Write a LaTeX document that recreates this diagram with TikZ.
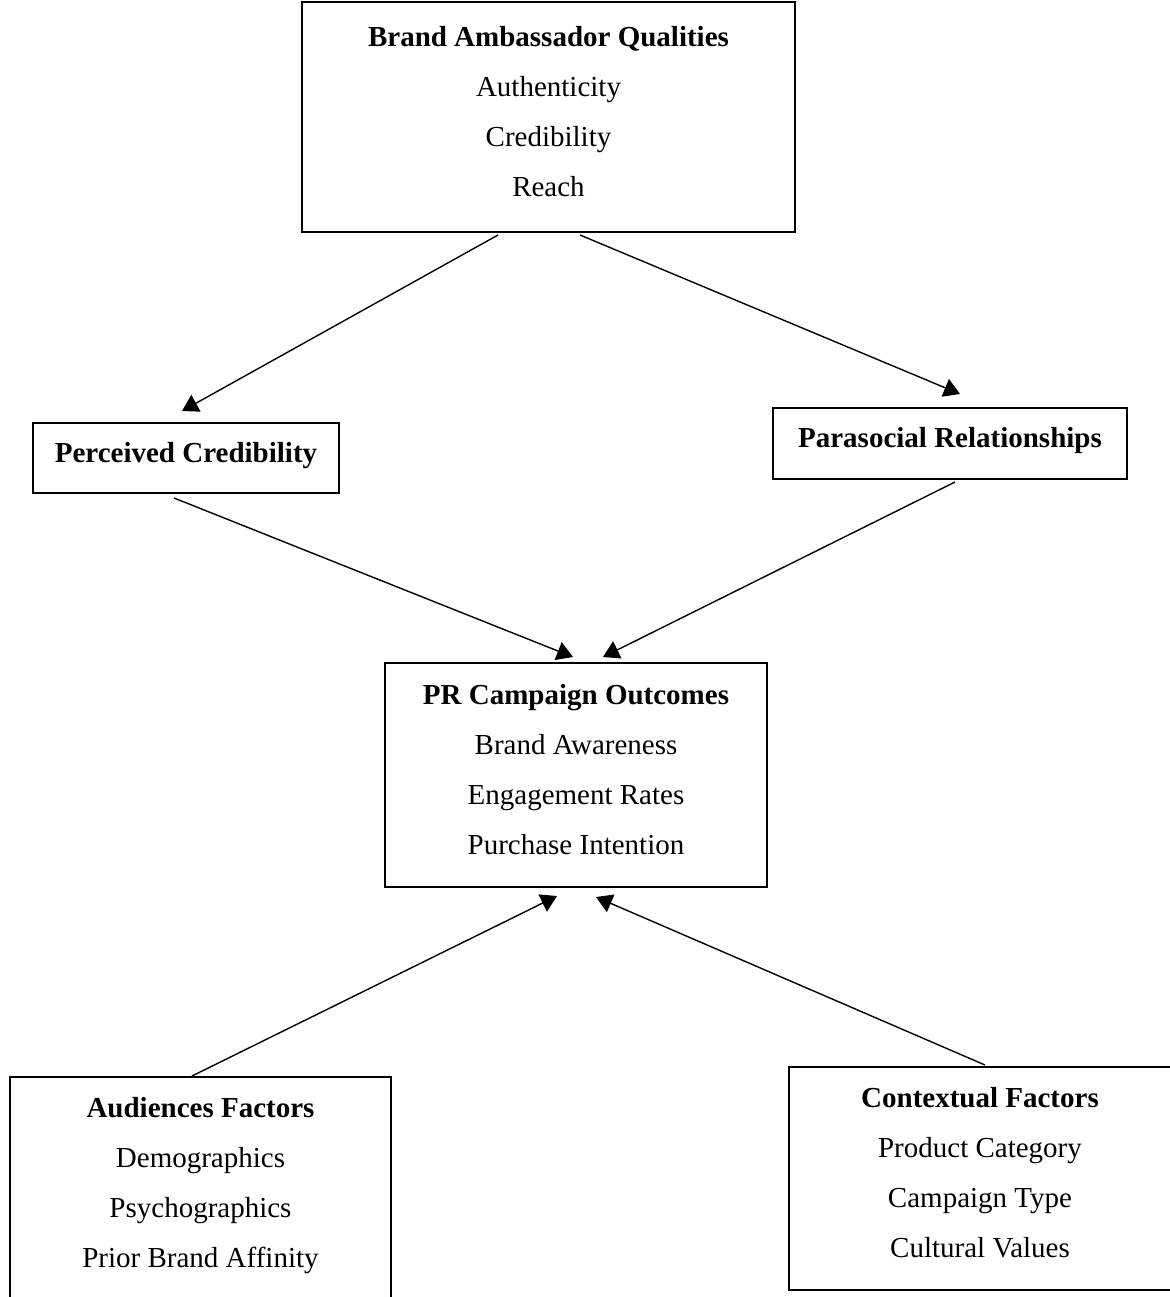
\documentclass[tikz,border=0pt]{standalone}
\usepackage{fontspec}
\setmainfont{Liberation Serif}
\usetikzlibrary{arrows.meta,calc}
\begin{document}
\begin{tikzpicture}[x=0.5pt,y=-0.5pt,
    box/.style={draw,line width=1pt,align=center,inner sep=0pt,text depth=6pt,
      font=\fontsize{14.5}{25}\selectfont},
    arr/.style={line width=0.7pt,-{Triangle[length=8pt,width=9.5pt]}}]
      \useasboundingbox (0,0) rectangle (1170,1297);
      % boxes
      \node[box,minimum width=493*0.5pt,minimum height=230*0.5pt] (bam) at (548.5,117)
        {\textbf{Brand Ambassador Qualities}\\Authenticity\\Credibility\\Reach};
      \node[box,minimum width=306*0.5pt,minimum height=70*0.5pt] (pc) at (186,458)
        {\textbf{Perceived Credibility}};
      \node[box,minimum width=354*0.5pt,minimum height=71*0.5pt] (ps) at (950,443.5)
        {\textbf{Parasocial Relationships}};
      \node[box,minimum width=382*0.5pt,minimum height=224*0.5pt] (pr) at (576,775)
        {\textbf{PR Campaign Outcomes}\\Brand Awareness\\Engagement Rates\\Purchase Intention};
      \node[box,minimum width=381*0.5pt,minimum height=223*0.5pt] (aud) at (200.5,1188.5)
        {\textbf{Audiences Factors}\\Demographics\\Psychographics\\Prior Brand Affinity};
      \node[box,minimum width=382*0.5pt,minimum height=223*0.5pt] (ctx) at (980,1178.5)
        {\textbf{Contextual Factors}\\Product Category\\Campaign Type\\Cultural Values};
      % arrows
      \draw[arr] ($(bam.south)+(-50.5,2)$) -- ($(pc.north)+(-4,-11)$);
      \draw[arr] ($(bam.south)+(31.5,2)$) -- ($(ps.north)+(10,-13)$);
      \draw[arr] ($(pc.south)+(-12,4)$) -- ($(pr.north)+(-3,-5)$);
      \draw[arr] ($(ps.south)+(5,2)$) -- ($(pr.north)+(27,-5)$);
      \draw[arr] ($(aud.north)+(-8.5,0)$) -- ($(pr.south)+(-19,8)$);
      \draw[arr] ($(ctx.north)+(5,-1)$) -- ($(pr.south)+(20,9)$);
\end{tikzpicture}
\end{document}
